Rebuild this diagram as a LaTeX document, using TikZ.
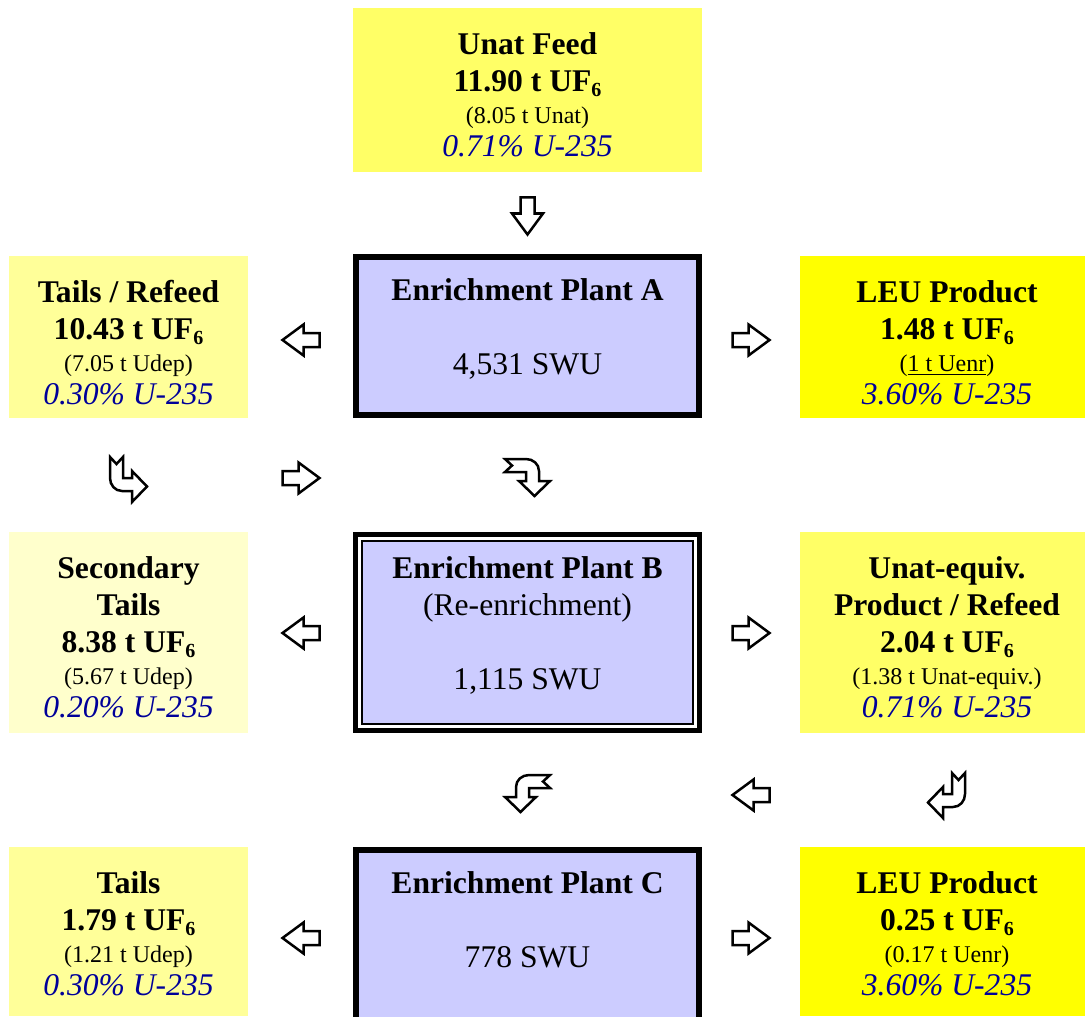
\documentclass[tikz,border=0pt]{standalone}
\usepackage{fontspec}
\setmainfont{Liberation Serif}
\usetikzlibrary{positioning}

\definecolor{feedyellow}{RGB}{255,255,102}
\definecolor{tailyellow}{RGB}{255,255,153}
\definecolor{paleyellow}{RGB}{255,255,204}
\definecolor{leuyellow}{RGB}{255,255,0}
\definecolor{plantblue}{RGB}{204,204,255}
\definecolor{pctblue}{RGB}{0,0,153}

\newcommand{\smalltxt}{\fontsize{12}{14}\selectfont}
\newcommand{\pcttxt}{\itshape\color{pctblue}}
\newcommand{\firstline}{\rule{0pt}{11pt}}
\newcommand{\ufsix}{UF\raisebox{-2.5pt}{\fontsize{10}{12}\selectfont 6}}

\tikzset{
  matbox/.style={rectangle, inner sep=0pt, outer sep=0pt},
  sidebox/.style={matbox, minimum width=119.5pt},
  prodbox/.style={matbox, minimum width=147pt},
  plantbox/.style={matbox, draw, line width=3pt, fill=plantblue, minimum width=171.5pt},
  boxtext/.style={inner sep=0pt, align=center, font=\fontsize{15.8}{18.5}\selectfont},
  arrowline/.style={draw=black, fill=white, line width=1.25pt, line join=miter},
  blockarrow/.pic={\path[arrowline] (-18.5,-7) -- (-2.5,-7) -- (-2.5,-15.5) -- (18.5,0) -- (-2.5,15.5) -- (-2.5,7) -- (-18.5,7) -- cycle;},
  bentarrow/.pic={\path[arrowline] (0,0) -- (6.5,7) -- (13,0) -- (13,21) -- (22,21) -- (22,14) -- (37,29.5) -- (22,45) -- (22,34) -- (12,34) .. controls (5,34) and (0,28) .. (0,21) -- cycle;},
  bentarrowswap/.pic={\path[arrowline] (0,0) -- (7,6.5) -- (0,13) -- (21,13) -- (21,22) -- (14,22) -- (29.5,37) -- (45,22) -- (34,22) -- (34,12) .. controls (34,5) and (28,0) .. (21,0) -- cycle;}
}

\begin{document}
\begin{tikzpicture}[x=0.5pt, y=-0.5pt]

\useasboundingbox (0,0) rectangle (1085,1016);
\clip (0,0) rectangle (1085,1016);

% Feed
\node[matbox, fill=feedyellow, minimum width=174.5pt, minimum height=82pt] (feed) at (527.5,90) {};
\node[boxtext, below=12pt of feed.north] (feedtext) {\firstline\textbf{Unat Feed}\\ \textbf{11.90 t \ufsix}\\[-2.5pt] {\smalltxt (8.05 t Unat)}\\[-2pt] {\pcttxt 0.71\% U-235}};

% Plant A row
\node[sidebox, fill=tailyellow, minimum height=81pt] (tailsA) at (128.5,337) {};
\node[boxtext, below=12pt of tailsA.north] (tailsAtext) {\firstline\textbf{Tails / Refeed}\\ \textbf{10.43 t \ufsix}\\[-2.5pt] {\smalltxt (7.05 t Udep)}\\[-2pt] {\pcttxt 0.30\% U-235}};

\node[plantbox, minimum height=79pt] (plantA) at (527.5,336) {};
\node[boxtext, below=10.5pt of plantA.north] (plantAtext) {\firstline\textbf{Enrichment Plant A}\\[18.5pt] 4,531 SWU};

\node[prodbox, fill=leuyellow, minimum height=81pt] (leuA) at (947,337) {};
\node[boxtext, below=12pt of leuA.north] (leuAtext) {\firstline\textbf{LEU Product}\\ \textbf{1.48 t \ufsix}\\[-2.5pt] {\smalltxt (\underline{1 t Uenr})}\\[-2pt] {\pcttxt 3.60\% U-235}};

% Plant B row
\node[sidebox, fill=paleyellow, minimum height=100.5pt] (tailsB) at (128.5,632.5) {};
\node[boxtext, below=12pt of tailsB.north] (tailsBtext) {\firstline\textbf{Secondary}\\ \textbf{Tails}\\ \textbf{8.38 t \ufsix}\\[-2.5pt] {\smalltxt (5.67 t Udep)}\\[-2pt] {\pcttxt 0.20\% U-235}};

\node[matbox, draw, fill=white, line width=2.5pt, minimum width=172pt, minimum height=98pt] (plantBframe) at (527.5,632.5) {};
\node[matbox, draw, fill=plantblue, line width=1pt, minimum width=165.5pt, minimum height=91.5pt] (plantB) at (plantBframe.center) {};
\node[boxtext, below=10.75pt of plantBframe.north] (plantBtext) {\firstline\textbf{Enrichment Plant B}\\ (Re-enrichment)\\[18.5pt] 1,115 SWU};

\node[prodbox, fill=feedyellow, minimum height=100.5pt] (unatB) at (947,632.5) {};
\node[boxtext, below=12pt of unatB.north] (unatBtext) {\firstline\textbf{Unat-equiv.}\\ \textbf{Product / Refeed}\\ \textbf{2.04 t \ufsix}\\[-2.5pt] {\smalltxt (1.38 t Unat-equiv.)}\\[-2pt] {\pcttxt 0.71\% U-235}};

% Plant C row
\node[sidebox, fill=tailyellow, minimum height=84.5pt] (tailsC) at (128.5,931.5) {};
\node[boxtext, below=12pt of tailsC.north] (tailsCtext) {\firstline\textbf{Tails}\\ \textbf{1.79 t \ufsix}\\[-2.5pt] {\smalltxt (1.21 t Udep)}\\[-2pt] {\pcttxt 0.30\% U-235}};

\node[plantbox, minimum height=88.5pt] (plantC) at (527.5,938.5) {};
\node[boxtext, below=10.5pt of plantC.north] (plantCtext) {\firstline\textbf{Enrichment Plant C}\\[18.5pt] 778 SWU};

\node[prodbox, fill=leuyellow, minimum height=84.5pt] (leuC) at (947,931.5) {};
\node[boxtext, below=12pt of leuC.north] (leuCtext) {\firstline\textbf{LEU Product}\\ \textbf{0.25 t \ufsix}\\[-2.5pt] {\smalltxt (0.17 t Uenr)}\\[-2pt] {\pcttxt 3.60\% U-235}};

% Draw the straight arrows
\pic[rotate=-90] at (527.5,216) {blockarrow};
\pic[rotate=180] at (301,340) {blockarrow};
\pic at (751,340) {blockarrow};
\pic at (301,478) {blockarrow};
\pic[rotate=180] at (301,633) {blockarrow};
\pic at (751,633) {blockarrow};
\pic[rotate=180] at (751,795) {blockarrow};
\pic[rotate=180] at (301,938) {blockarrow};
\pic at (751,938) {blockarrow};

% Draw the bent arrows
\pic at (110,457) {bentarrow};
\pic at (505,459) {bentarrowswap};
\pic[xscale=-1] at (550,775) {bentarrowswap};
\pic[xscale=-1] at (965,773) {bentarrow};

\end{tikzpicture}
\end{document}
